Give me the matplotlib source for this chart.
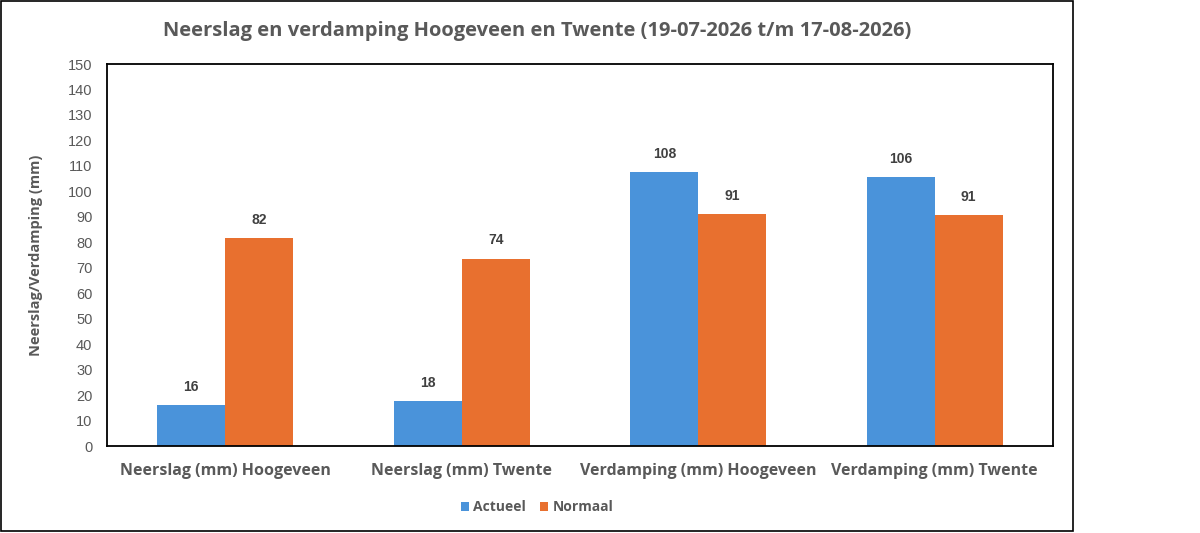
import matplotlib
matplotlib.use("Agg")
import matplotlib.pyplot as plt
from matplotlib.patches import Rectangle
import numpy as np

categories = ["Neerslag (mm) Hoogeveen", "Neerslag (mm) Twente",
              "Verdamping (mm) Hoogeveen", "Verdamping (mm) Twente"]
actueel = [16.1, 17.6, 107.6, 105.6]
normaal = [81.8, 73.6, 91.1, 90.6]
series_names = ["Actueel", "Normaal"]
yticks = list(range(0, 151, 10))

blue = "#4A93DA"
orange = "#E8702F"
gray = "#595959"

fig = plt.figure(figsize=(12, 5.33), dpi=100)
ax = fig.add_axes([107/1200, 1-446/533, (1053-107)/1200, (446-64)/533])

x = np.arange(len(categories))
w = 0.287
b1 = ax.bar(x - w/2, actueel, w, color=blue, label=series_names[0], zorder=2)
b2 = ax.bar(x + w/2, normaal, w, color=orange, label=series_names[1], zorder=2)

for bars, vals in ((b1, actueel), (b2, normaal)):
    for r, v in zip(bars, vals):
        ax.annotate(f"{int(v + 0.5):d}", (r.get_x() + r.get_width()/2, v),
                    xytext=(0, 8), textcoords="offset points", ha="center", va="bottom",
                    fontsize=10, fontweight="bold", color="#404040", family="Liberation Sans")

ax.set_xlim(-0.5, 3.5)
ax.set_ylim(0, 150)
ax.set_yticks(yticks)
ax.set_yticklabels([str(t) for t in yticks], fontsize=10.5, color=gray, family="Liberation Sans")
ax.set_xticks(x)
ax.set_xticklabels(categories, fontsize=11.5, fontweight="bold", color=gray, family="Open Sans")
ax.tick_params(axis="both", length=0)
ax.tick_params(axis="y", pad=10.5)
ax.tick_params(axis="x", pad=12)
for s in ax.spines.values():
    s.set_color("black")
    s.set_linewidth(1.3)

ax.set_ylabel("Neerslag/Verdamping (mm)", fontsize=10.5, fontweight="bold", color=gray,
              family="Open Sans", labelpad=18)

fig.text(537/1200, 1-31/533, "Neerslag en verdamping Hoogeveen en Twente (19-07-2026 t/m 17-08-2026)",
         ha="center", va="center", fontsize=14.5, fontweight="bold", color=gray, family="Open Sans")

leg = fig.legend(handles=[b1, b2], labels=series_names, loc="center",
                 bbox_to_anchor=(537/1200, 1-507/533), ncol=2, frameon=False,
                 handlelength=0.6, handleheight=0.6, handletextpad=0.3, columnspacing=1.0,
                 prop={"family": "Open Sans", "weight": "bold", "size": 10})
for t in leg.get_texts():
    t.set_color(gray)

fig.add_artist(Rectangle((1/1200, 1-531/533), 1072/1200, 530/533, transform=fig.transFigure,
                         fill=False, edgecolor="black", linewidth=1.2))

fig.savefig("out.png", dpi=100)
